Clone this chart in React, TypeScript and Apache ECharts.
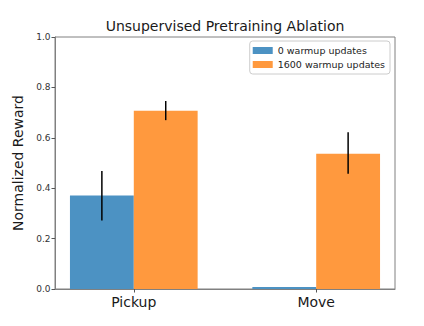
import React, { useEffect, useRef } from "react";
import * as echarts from "echarts";

const categories = ["Pickup", "Move"];
const seriesNames = ["0 warmup updates", "1600 warmup updates"];
const warmup0 = [0.371, 0.008];
const warmup1600 = [0.707, 0.537];
const warmup0Low = [0.272, null];
const warmup0High = [0.468, null];
const warmup1600Low = [0.670, 0.457];
const warmup1600High = [0.746, 0.622];
const yTicks = [0, 0.2, 0.4, 0.6, 0.8, 1.0];

const BLUE = "#4c92c3";
const ORANGE = "#ff993e";
const FONT = "DejaVu Sans";
const BW = 0.35;

function barSeries(name: string, values: number[], offset: number, color: string) {
  return {
    type: "custom",
    name,
    data: values.map((v, i) => [i, v]),
    encode: { x: 0, y: 1 },
    itemStyle: { color },
    clip: false,
    renderItem: (params: any, api: any) => {
      const x = api.value(0);
      const y = api.value(1);
      const p0 = api.coord([x + offset, y]);
      const p1 = api.coord([x + offset + BW, 0]);
      return {
        type: "rect",
        shape: { x: p0[0], y: p0[1], width: p1[0] - p0[0], height: p1[1] - p0[1] },
        style: { fill: color },
      };
    },
  };
}

function errSeries(low: (number | null)[], high: (number | null)[], offset: number) {
  const data: any[] = [];
  low.forEach((l, i) => {
    const h = high[i];
    if (l != null && h != null) data.push([i, l, h]);
  });
  return {
    type: "custom",
    name: "err" + offset,
    data,
    encode: { x: 0, y: [1, 2] },
    clip: false,
    z: 5,
    renderItem: (params: any, api: any) => {
      const x = api.value(0) + offset;
      const a = api.coord([x, api.value(1)]);
      const b = api.coord([x, api.value(2)]);
      return {
        type: "line",
        shape: { x1: a[0], y1: a[1], x2: b[0], y2: b[1] },
        style: { stroke: "#000", lineWidth: 1.5 },
      };
    },
  };
}

export default function App() {
  const ref = useRef<HTMLDivElement>(null);
  useEffect(() => {
    if (!ref.current) return;
    const chart = echarts.init(ref.current, undefined, { renderer: "svg" });
    chart.setOption({
      animation: false,
      backgroundColor: "#fff",
      title: {
        text: "Unsupervised Pretraining Ablation",
        left: 225,
        top: 19,
        textAlign: "center",
        padding: 0,
        textStyle: { fontFamily: FONT, fontSize: 14, fontWeight: "normal", color: "#1a1a1a" },
      },
      grid: {
        left: 55,
        right: 29,
        top: 37,
        bottom: 37,
        show: true,
        borderColor: "#808080",
        borderWidth: 1,
        backgroundColor: "transparent",
      },
      legend: {
        orient: "vertical",
        right: 34,
        top: 41,
        data: seriesNames.map((n) => ({ name: n, icon: "rect" })),
        itemWidth: 20,
        itemHeight: 7,
        itemGap: 3,
        padding: [4, 5, 4, 3],
        borderColor: "#cccccc",
        borderWidth: 1,
        borderRadius: 3,
        backgroundColor: "#fff",
        textStyle: { fontFamily: FONT, fontSize: 9.5, color: "#222", lineHeight: 11 },
      },
      xAxis: {
        type: "value",
        min: -0.432,
        max: 1.432,
        axisLine: { show: true, onZero: false, lineStyle: { color: "#808080", width: 1 } },
        axisTick: { show: true, length: 3.5, customValues: [0, 1], lineStyle: { color: "#555" } },
        axisLabel: {
          customValues: [0, 1],
          formatter: (v: number) => categories[Math.round(v)] ?? "",
          fontFamily: FONT,
          fontSize: 14,
          color: "#1a1a1a",
          margin: 6,
        },
        splitLine: { show: false },
      },
      yAxis: {
        type: "value",
        min: 0,
        max: 1,
        interval: 0.2,
        name: "Normalized Reward",
        nameLocation: "middle",
        nameGap: 22,
        nameTextStyle: { fontFamily: FONT, fontSize: 14, color: "#1a1a1a" },
        axisLine: { show: true, onZero: false, lineStyle: { color: "#808080", width: 1 } },
        axisTick: { show: true, length: 3.5, lineStyle: { color: "#555" } },
        axisLabel: {
          formatter: (v: number) => {
            const t = yTicks.find((k) => Math.abs(k - v) < 1e-6);
            return (t ?? v).toFixed(1);
          },
          fontFamily: FONT,
          fontSize: 9,
          color: "#333",
          margin: 4.5,
        },
        splitLine: { show: false },
      },
      series: [
        barSeries(seriesNames[0], warmup0, -BW, BLUE),
        barSeries(seriesNames[1], warmup1600, 0, ORANGE),
        errSeries(warmup0Low, warmup0High, -BW / 2),
        errSeries(warmup1600Low, warmup1600High, BW / 2),
      ],
    });
    return () => chart.dispose();
  }, []);
  return (
    <div
      ref={ref}
      style={{ position: "fixed", left: 0, top: 0, width: 424, height: 326 }}
    />
  );
}
